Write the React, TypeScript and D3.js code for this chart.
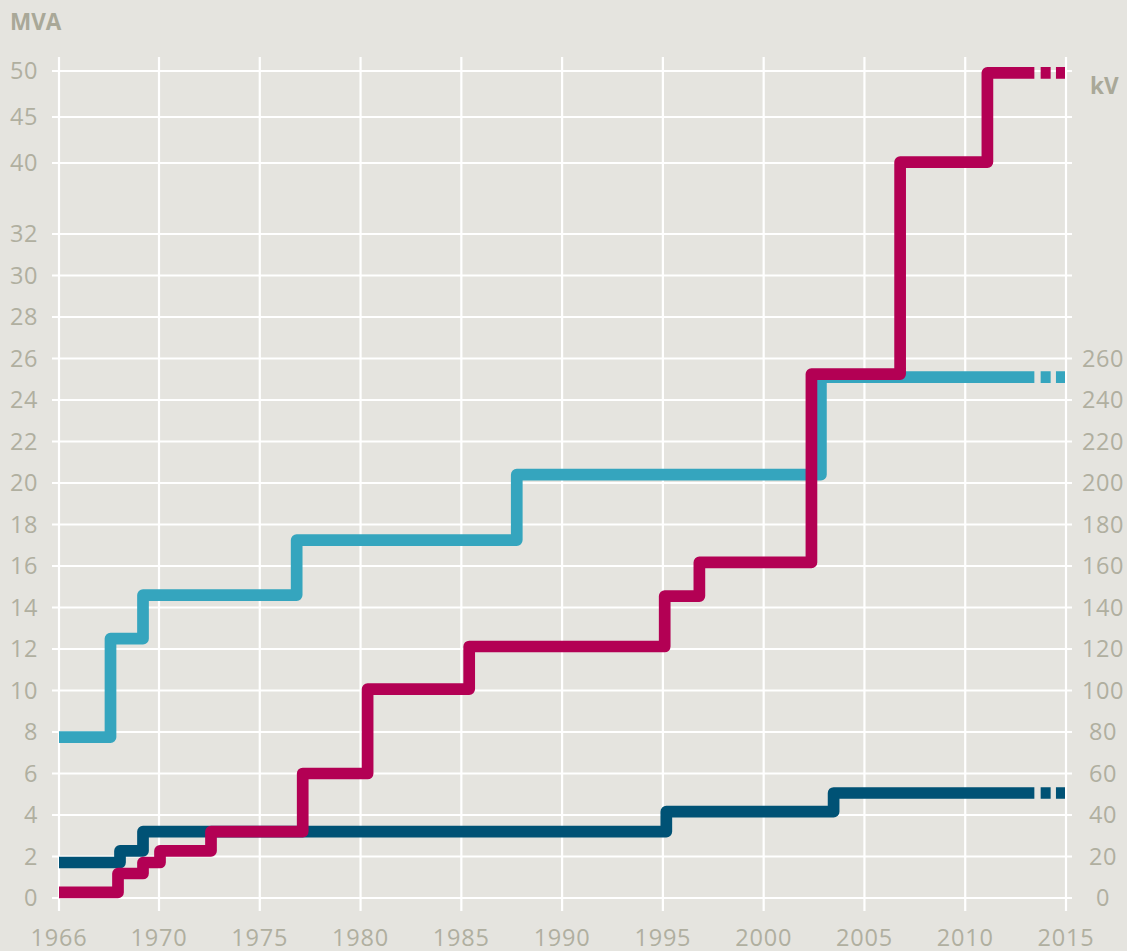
import * as d3 from 'd3';

const WIDTH = 1127;
const HEIGHT = 951;

// x ticks (1966-1970 gets the same width as a 5-year interval)
const yearTicks = [1966, 1970, 1975, 1980, 1985, 1990, 1995, 2000, 2005, 2010, 2015];
const mvaTicks = [0, 2, 4, 6, 8, 10, 12, 14, 16, 18, 20, 22, 24, 26, 28, 30, 32, 40, 45, 50];
const kvTicks = [0, 20, 40, 60, 80, 100, 120, 140, 160, 180, 200, 220, 240, 260];

// voltage (kV), light blue
const kvYears = [1966, 1968.06, 1969.36, 1976.83, 1987.75, 2002.84];
const kvValues = [77.5, 125, 146, 172.5, 204, 251];

// dark blue (MVA)
const blueYears = [1966, 1968.44, 1969.36, 1995.17, 2003.47];
const blueValues = [1.71, 2.27, 3.2, 4.16, 5.06];

// magenta (MVA)
const redYears = [1966, 1968.36, 1969.36, 1970.05, 1972.58, 1977.13, 1980.35, 1985.39, 1995.09, 1996.81, 2002.37, 2006.77, 2011.1];
const redValues = [0.27, 1.18, 1.71, 2.27, 3.2, 6.0, 10.07, 12.12, 14.55, 16.17, 25.25, 40.1, 49.8];

const solidEnd = 2013.43;
const lineEnd = 2014.95;

const COLORS = {
  bg: '#e5e4df',
  grid: '#ffffff',
  text: '#b0afa0',
  label: '#a9a898',
  teal: '#35a5be',
  navy: '#005275',
  magenta: '#b30054',
};

const x = d3.scaleLinear().domain([1966, 1970, 2015]).range([59, 159, 1066]);
const y = d3.scaleLinear().domain([0, 32, 40, 50]).range([898, 234, 163, 71]);
const yKv = d3.scaleLinear().domain([0, 260]).range([y(0), y(26)]);

type Pt = [number, number];

const stepLine = d3.line<Pt>().x(d => d[0]).y(d => d[1]).curve(d3.curveStepAfter);

function series(years: number[], values: number[], scale: (v: number) => number) {
  const pts: Pt[] = years.map((yr, i) => [x(yr), scale(values[i])]);
  const last = values[values.length - 1];
  pts.push([x(solidEnd), scale(last)]);
  return {
    solid: stepLine(pts) || '',
    dashed: `M${x(solidEnd)},${scale(last)}H${x(lineEnd)}`,
  };
}

const lines = [
  { key: 'kv', color: COLORS.teal, ...series(kvYears, kvValues, yKv) },
  { key: 'navy', color: COLORS.navy, ...series(blueYears, blueValues, y) },
  { key: 'magenta', color: COLORS.magenta, ...series(redYears, redValues, y) },
];

const font = '"Open Sans", "Noto Sans", sans-serif';
const tickSize = 23.5;

export default function App() {
  return (
    <svg
      width={WIDTH}
      height={HEIGHT}
      style={{ position: 'absolute', left: 0, top: 0, display: 'block', background: COLORS.bg }}
    >
      <rect width={WIDTH} height={HEIGHT} fill={COLORS.bg} />

      {/* grid */}
      <g stroke={COLORS.grid} strokeWidth={2.2}>
        {mvaTicks.map(t => (
          <line key={'h' + t} x1={52} x2={1072} y1={y(t)} y2={y(t)} />
        ))}
        {yearTicks.map(t => (
          <line key={'v' + t} x1={x(t)} x2={x(t)} y1={57} y2={911} />
        ))}
      </g>

      {/* left axis */}
      <g fontFamily={font} fontSize={tickSize} letterSpacing={0.6} fill={COLORS.text} textAnchor="end">
        {mvaTicks.map(t => (
          <text key={t} x={38} y={y(t)} dy="0.36em">{t}</text>
        ))}
      </g>
      {/* right axis */}
      <g fontFamily={font} fontSize={tickSize} letterSpacing={0.6} fill={COLORS.text} textAnchor="middle">
        {kvTicks.map(t => (
          <text key={t} x={1103} y={yKv(t)} dy="0.36em">{t}</text>
        ))}
      </g>
      {/* bottom axis */}
      <g fontFamily={font} fontSize={tickSize} letterSpacing={0.8} fill={COLORS.text} textAnchor="middle">
        {yearTicks.map(t => (
          <text key={t} x={x(t)} y={945.5}>{t}</text>
        ))}
      </g>

      <text x={10} y={29.5} fontFamily={font} fontSize={22.5} fontWeight={700} fill={COLORS.label}>MVA</text>
      <text x={1090} y={94} fontFamily={font} fontSize={22.5} fontWeight={700} fill={COLORS.label}>kV</text>

      {/* series */}
      {lines.map(l => (
        <g key={l.key} fill="none" stroke={l.color} strokeWidth={11.7}>
          <path d={l.solid} strokeLinejoin="round" strokeLinecap="butt" />
          <path d={l.dashed} strokeDasharray="0 6.3 10 5.3 10 40" />
        </g>
      ))}
    </svg>
  );
}
